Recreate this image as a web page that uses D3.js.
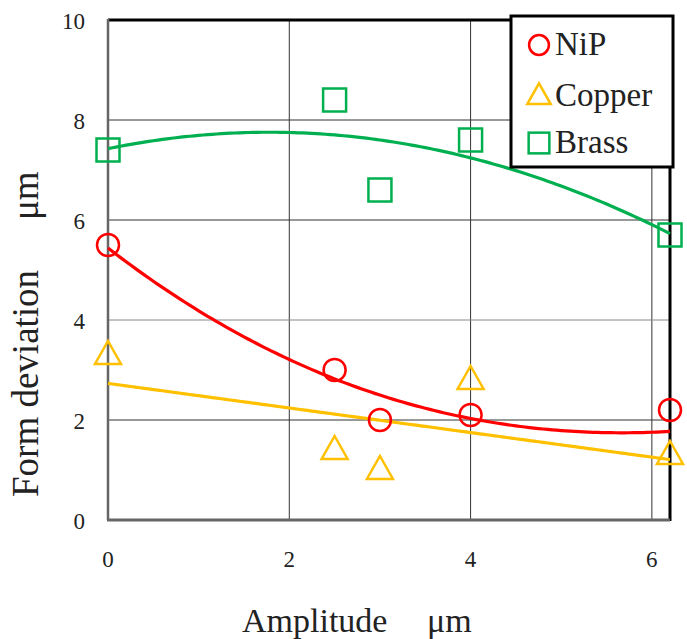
<!DOCTYPE html>
<html>
<head>
<meta charset="utf-8">
<script src="https://cdn.jsdelivr.net/npm/d3@7"></script>
<style>
  body { margin: 0; background: #fff; }
  svg { display: block; font-family: "Liberation Serif", "Times New Roman", serif; }
</style>
</head>
<body>
<svg></svg>
<script>
// размеры окна
const width = 687;
const height = 639;

// данные
const amplitude = [0, 2.5, 3, 4, 6.2];
const nipValues = [5.5, 3.0, 2.0, 2.1, 2.2];
const copperValues = [3.3, 1.4, 1.0, 2.8, 1.3];
const brassValues = [7.4, 8.4, 6.6, 7.6, 5.7];
// коэффициенты линии тренда NiP (a + bx + cx^2 + dx^3)
const nipTrend = [5.44, -1.402, 0.1496, -0.00305];
const seriesNames = ["NiP", "Copper", "Brass"];
const xTicks = [0, 2, 4, 6];
const yTicks = [0, 2, 4, 6, 8, 10];

const colors = { NiP: "#ff0000", Copper: "#ffc000", Brass: "#00b050" };

let svg = d3.select("svg")
  .attr("width", width)
  .attr("height", height);

const x = d3.scaleLinear().domain([0, 6.2]).range([108, 670]);
const y = d3.scaleLinear().domain([0, 10]).range([520, 20]);

// полиномиальная аппроксимация (метод наименьших квадратов)
function polyfit(xs, ys, deg) {
  const n = deg + 1;
  let A = [];
  for (let i = 0; i < n; i++) {
    let row = [];
    for (let j = 0; j < n; j++) row.push(d3.sum(xs, v => Math.pow(v, i + j)));
    row.push(d3.sum(xs, (v, k) => Math.pow(v, i) * ys[k]));
    A.push(row);
  }
  for (let i = 0; i < n; i++) {
    let p = i;
    for (let r = i + 1; r < n; r++) if (Math.abs(A[r][i]) > Math.abs(A[p][i])) p = r;
    [A[i], A[p]] = [A[p], A[i]];
    for (let r = 0; r < n; r++) {
      if (r === i) continue;
      const f = A[r][i] / A[i][i];
      for (let c = i; c <= n; c++) A[r][c] -= f * A[i][c];
    }
  }
  return A.map((row, i) => row[n] / row[i]);
}

// сетка
const grid = svg.append("g");
grid.selectAll(".vgrid")
  .data(xTicks.filter(d => d > 0))
  .enter().append("line")
  .attr("x1", d => x(d)).attr("x2", d => x(d))
  .attr("y1", y(10)).attr("y2", y(0))
  .style("stroke", "#333").style("stroke-width", 1);
grid.selectAll(".hgrid")
  .data(yTicks.filter(d => d > 0 && d < 10))
  .enter().append("line")
  .attr("x1", x(0)).attr("x2", x(6.2))
  .attr("y1", d => y(d)).attr("y2", d => y(d))
  .style("stroke", d => d === 4 ? "#888" : "#333").style("stroke-width", 1);

// рамка
svg.append("line")
  .attr("x1", x(0)).attr("x2", x(6.2)).attr("y1", y(10)).attr("y2", y(10))
  .style("stroke", "#000").style("stroke-width", 3);
svg.append("line")
  .attr("x1", x(6.2)).attr("x2", x(6.2)).attr("y1", y(10)).attr("y2", y(0) + 1)
  .style("stroke", "#000").style("stroke-width", 3);
svg.append("line")
  .attr("x1", x(0)).attr("x2", x(0)).attr("y1", y(10) - 1).attr("y2", y(0))
  .style("stroke", "#666").style("stroke-width", 2.5);
svg.append("line")
  .attr("x1", x(0) - 1).attr("x2", x(6.2)).attr("y1", y(0)).attr("y2", y(0))
  .style("stroke", "#666").style("stroke-width", 3);

// подписи делений
svg.append("g").selectAll("text")
  .data(yTicks).enter().append("text")
  .attr("x", 85).attr("y", d => y(d) + 9)
  .attr("text-anchor", "end")
  .style("font-size", "23px").style("fill", "#222")
  .text(d => d);
svg.append("g").selectAll("text")
  .data(xTicks).enter().append("text")
  .attr("x", d => x(d)).attr("y", 567)
  .attr("text-anchor", "middle")
  .style("font-size", "23px").style("fill", "#222")
  .text(d => d);

// названия осей
svg.append("text")
  .attr("x", 242).attr("y", 632)
  .style("font-size", "34px").style("fill", "#222")
  .text("Amplitude");
svg.append("text")
  .attr("x", 427).attr("y", 632)
  .style("font-size", "34px").style("fill", "#222")
  .text("μm");
svg.append("text")
  .attr("transform", "translate(38,497) rotate(-90)")
  .style("font-size", "37px").style("fill", "#222")
  .text("Form deviation");
svg.append("text")
  .attr("transform", "translate(38,220) rotate(-90)")
  .style("font-size", "37px").style("fill", "#222")
  .text("μm");

// линии тренда
const poly = (coef, v) => d3.sum(coef, (c, i) => c * Math.pow(v, i));
const series = [
  { name: "NiP", values: nipValues, coef: nipTrend },
  { name: "Copper", values: copperValues, coef: polyfit(amplitude, copperValues, 1) },
  { name: "Brass", values: brassValues, coef: polyfit(amplitude, brassValues, 2) }
];
const line = d3.line().x(d => x(d[0])).y(d => y(d[1]));
const xs = d3.range(0, 6.2001, 0.05);
series.forEach(s => {
  const pts = xs.map(v => [v, poly(s.coef, v)]);
  svg.append("path")
    .attr("d", line(pts))
    .style("fill", "none")
    .style("stroke", colors[s.name])
    .style("stroke-width", 3.2);
});

// маркеры
function marker(g, name, cx, cy, size) {
  const c = colors[name];
  const k = size || 1;
  if (name === "NiP") {
    g.append("circle").attr("cx", cx).attr("cy", cy).attr("r", 11 * k)
      .style("fill", "none").style("stroke", c).style("stroke-width", 2.5);
  } else if (name === "Copper") {
    g.append("polygon")
      .attr("points", `${cx},${cy - 14 * k} ${cx + 13 * k},${cy + 9 * k} ${cx - 13 * k},${cy + 9 * k}`)
      .style("fill", "none").style("stroke", c).style("stroke-width", 2.5);
  } else {
    g.append("rect").attr("x", cx - 11.5 * k).attr("y", cy - 11.5 * k)
      .attr("width", 23 * k).attr("height", 23 * k)
      .style("fill", "none").style("stroke", c).style("stroke-width", 2.5);
  }
}
const marks = svg.append("g");
series.forEach(s => {
  s.values.forEach((v, i) => marker(marks, s.name, x(amplitude[i]), y(v)));
});

// легенда
const legend = svg.append("g");
legend.append("rect")
  .attr("x", 511).attr("y", 16).attr("width", 162).attr("height", 151)
  .style("fill", "#fff").style("stroke", "#000").style("stroke-width", 3);
const legendY = [45, 96, 143];
seriesNames.forEach((name, i) => {
  const g = legend.append("g");
  marker(g, name, 539, legendY[i], 0.9);
  g.append("text").attr("x", 555).attr("y", legendY[i] + 10)
    .style("font-size", "33px").style("fill", "#222")
    .text(name);
});
</script>
</body>
</html>
